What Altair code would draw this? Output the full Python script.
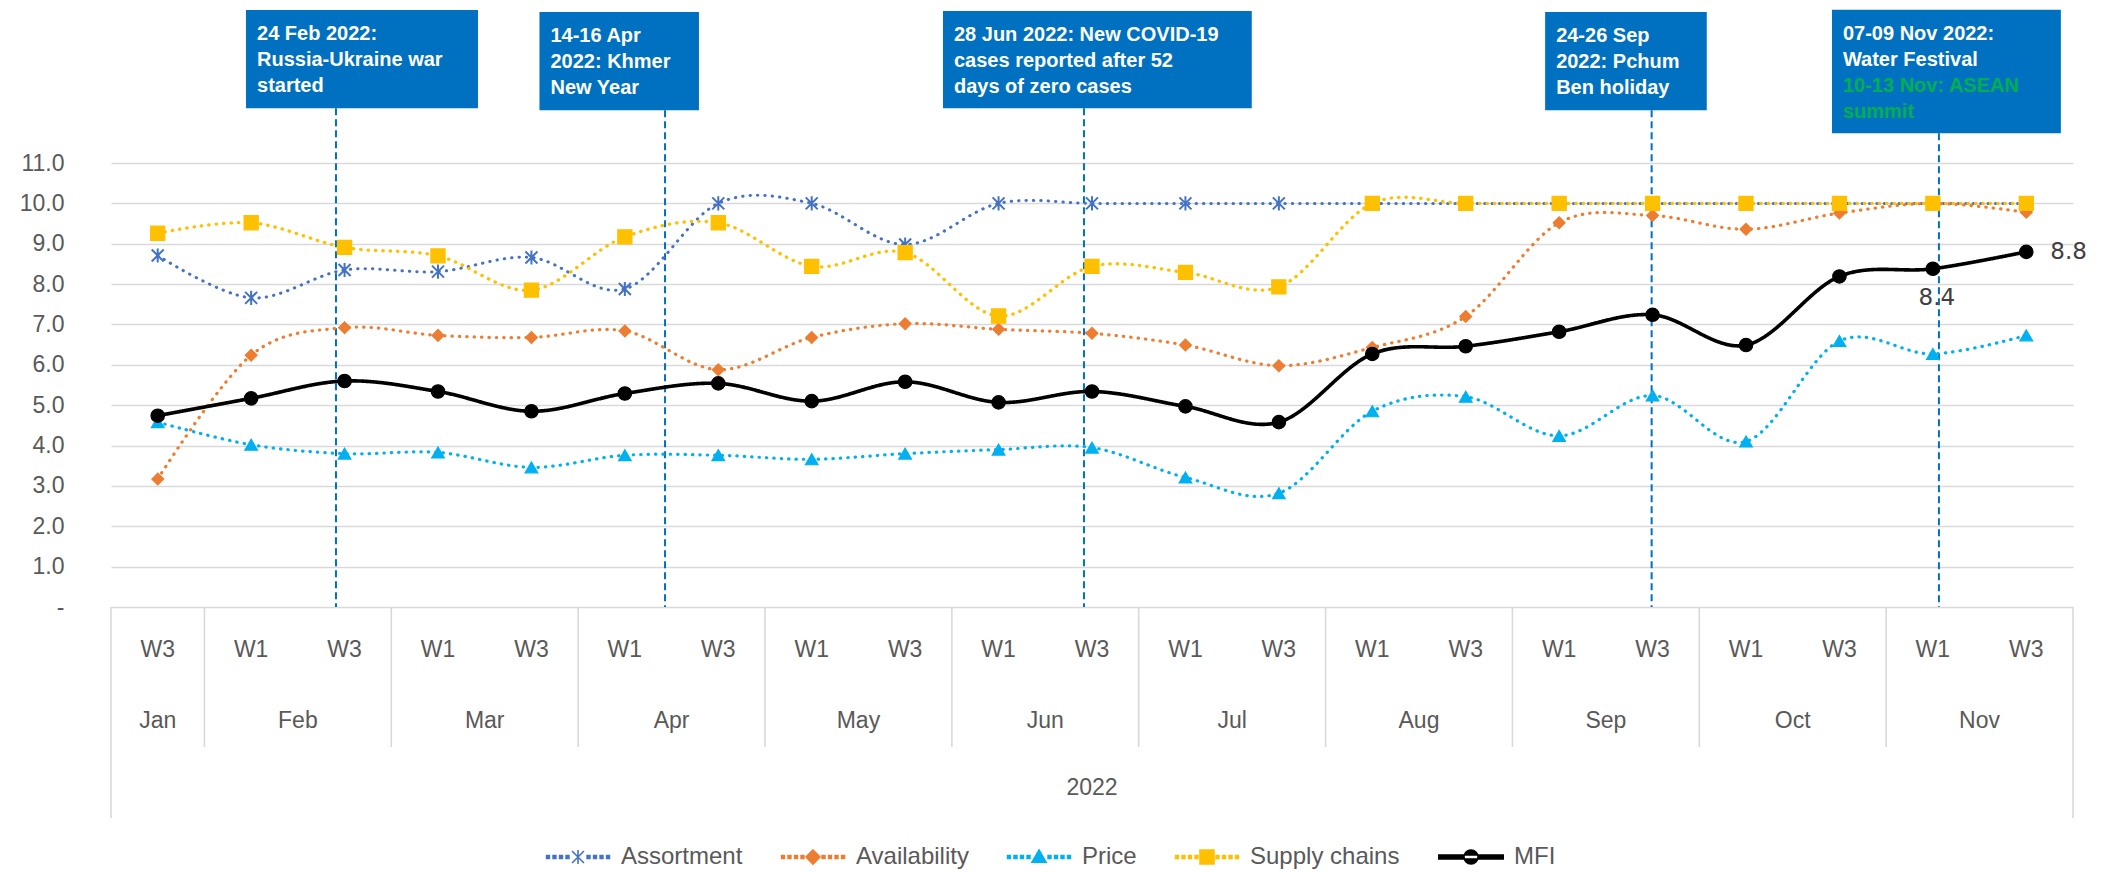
import altair as alt
import pandas as pd

# ---------------- data ----------------
months = ["Jan", "Feb", "Feb", "Mar", "Mar", "Apr", "Apr", "May", "May", "Jun", "Jun",
          "Jul", "Jul", "Aug", "Aug", "Sep", "Sep", "Oct", "Oct", "Nov", "Nov"]
weeks = ["W3", "W1", "W3", "W1", "W3", "W1", "W3", "W1", "W3", "W1", "W3",
         "W1", "W3", "W1", "W3", "W1", "W3", "W1", "W3", "W1", "W3"]
year_label = "2022"

series_names = ["Assortment", "Availability", "Price", "Supply chains", "MFI"]
assortment = [8.71, 7.66, 8.35, 8.31, 8.66, 7.88, 10.0, 10.0, 8.98, 10.0, 10.0,
              10.0, 10.0, 10.0, 10.0, 10.0, 10.0, 10.0, 10.0, 10.0, 10.0]
availability = [3.17, 6.24, 6.92, 6.73, 6.68, 6.84, 5.88, 6.68, 7.02, 6.88, 6.78,
                6.49, 5.98, 6.43, 7.20, 9.52, 9.70, 9.36, 9.76, 10.0, 9.78]
price = [4.58, 4.02, 3.80, 3.83, 3.46, 3.76, 3.76, 3.66, 3.80, 3.90, 3.95,
         3.21, 2.82, 4.85, 5.21, 4.24, 5.24, 4.10, 6.59, 6.27, 6.73]
supply_chains = [9.26, 9.52, 8.91, 8.70, 7.85, 9.17, 9.52, 8.44, 8.78, 7.21, 8.44,
                 8.29, 7.93, 10.0, 10.0, 10.0, 10.0, 10.0, 10.0, 10.0, 10.0]
mfi = [4.74, 5.17, 5.60, 5.34, 4.85, 5.29, 5.54, 5.10, 5.58, 5.07, 5.34,
       4.97, 4.58, 6.27, 6.46, 6.82, 7.24, 6.49, 8.19, 8.38, 8.80]
series_values = [assortment, availability, price, supply_chains, mfi]

# MFI points that carry a data label
mfi_label_below = [19]
mfi_label_right = [20]

# event annotations (x in category-index units, y in value units)
annotations = [
    {"event": 1.908, "left": 0.945, "right": 3.428, "top": 14.79, "bottom": 12.36,
     "white": ["24 Feb 2022:", "Russia-Ukraine war", "started"], "green": []},
    {"event": 5.43, "left": 4.086, "right": 5.793, "top": 14.74, "bottom": 12.31,
     "white": ["14-16 Apr", "2022: Khmer", "New Year"], "green": []},
    {"event": 9.914, "left": 8.405, "right": 11.71, "top": 14.77, "bottom": 12.36,
     "white": ["28 Jun 2022: New COVID-19", "cases reported after 52", "days of zero cases"], "green": []},
    {"event": 15.99, "left": 14.85, "right": 16.58, "top": 14.74, "bottom": 12.31,
     "white": ["24-26 Sep", "2022: Pchum", "Ben holiday"], "green": []},
    {"event": 19.065, "left": 17.92, "right": 20.37, "top": 14.8, "bottom": 11.74,
     "white": ["07-09 Nov 2022:", "Water Festival"], "green": ["10-13 Nov: ASEAN", "summit"]},
]

# ---------------- styles ----------------
colors = ["#4472C4", "#ED7D31", "#00B0F0", "#FFC000", "#000000"]
ASTERISK = "M0,-1L0,1M-0.85,-0.85L0.85,0.85M-0.85,0.85L0.85,-0.85"
DIAMOND = "M0,-1L1,0L0,1L-1,0Z"
TRIANGLE = "M0,-1L1,0.75L-1,0.75Z"
SQUARE = "M-1,-1L1,-1L1,1L-1,1Z"
CIRCLE = "M-1,0A1,1,0,1,0,1,0A1,1,0,1,0,-1,0Z"
plot_shapes = [ASTERISK, "diamond", "triangle-up", "square", "circle"]
sizes = [200, 140, 160, 200, 180]
dashes = [[0.4, 7.0], [0.4, 7.0], [0.4, 7.0], [0.4, 7.0], [1, 0]]
widths = [3.0, 3.2, 3.2, 3.3, 3.6]


def dots_path():
    parts = []
    for c in (1.5, 2.43, 3.36, 4.29):
        for sx in (-c, c):
            parts.append(f"M{sx - 0.2:.2f},-0.2L{sx + 0.2:.2f},-0.2L{sx + 0.2:.2f},0.2L{sx - 0.2:.2f},0.2Z")
    return "".join(parts)


BAR = "M-4.6,-0.28L4.6,-0.28L4.6,0.28L-4.6,0.28Z"
legend_shapes = [dots_path() + ASTERISK, dots_path() + DIAMOND, dots_path() + TRIANGLE,
                 dots_path() + SQUARE, BAR + CIRCLE]

FONT = "Liberation Sans"
GREY = "#595959"
PPU = 40.36                 # pixels per value unit
TOP_PX, BOTTOM_PX = 598, 211
YMAX, YMIN = TOP_PX / PPU, -BOTTOM_PX / PPU
H = TOP_PX + BOTTOM_PX
W = 1962
n = len(weeks)

# ---------------- tables ----------------
rows = []
for s, vals in zip(series_names, series_values):
    for i, v in enumerate(vals):
        rows.append({"idx": i, "week": weeks[i], "month": months[i], "series": s, "value": v})
df = pd.DataFrame(rows)

xscale = alt.Scale(domain=[-0.5, n - 0.5], nice=False, zero=False)
yscale = alt.Scale(domain=[YMIN, YMAX], nice=False, zero=False)
X = alt.X("idx:Q", scale=xscale, axis=None)

mgroups = []
for m in dict.fromkeys(months):
    ids = [i for i, mm in enumerate(months) if mm == m]
    mgroups.append({"month": m, "center": (ids[0] + ids[-1]) / 2, "end": ids[-1] + 0.5})
mdf = pd.DataFrame(mgroups)

week_y = -43 / PPU
month_y = -114 / PPU
year_y = -181 / PPU
sep_y = -140 / PPU

layers = []

axis_layer = alt.Chart(pd.DataFrame({"idx": [0], "value": [0]})).mark_point(opacity=0).encode(
    x=X,
    y=alt.Y("value:Q", scale=yscale, axis=alt.Axis(
        values=list(range(0, 12)),
        labelExpr="datum.value == 0 ? '-' : format(datum.value, '.1f')",
        grid=True, gridColor="#D9D9D9", gridWidth=1.6, domain=False, ticks=False,
        labelPadding=47, labelFontSize=23, labelColor=GREY, labelFont=FONT, title=None)),
)
layers.append(axis_layer)

seps = pd.DataFrame({"x": [g["end"] for g in mgroups[:-1]], "y": 0.0, "y2": sep_y})
outer = pd.DataFrame({"x": [-0.5, n - 0.5], "y": 0.0, "y2": YMIN})
for d in (seps, outer):
    layers.append(alt.Chart(d).mark_rule(color="#D9D9D9", strokeWidth=1.6).encode(
        x=alt.X("x:Q", scale=xscale, axis=None),
        y=alt.Y("y:Q", scale=yscale), y2="y2:Q"))

wk = pd.DataFrame({"idx": list(range(n)), "week": weeks, "y": week_y})
layers.append(alt.Chart(wk).mark_text(font=FONT, fontSize=23, color=GREY, baseline="middle").encode(
    x=X, y=alt.Y("y:Q", scale=yscale), text="week:N"))
mdf["y"] = month_y
layers.append(alt.Chart(mdf).mark_text(font=FONT, fontSize=23, color=GREY, baseline="middle").encode(
    x=alt.X("center:Q", scale=xscale, axis=None), y=alt.Y("y:Q", scale=yscale), text="month:N"))
ydf = pd.DataFrame({"x": [(n - 1) / 2], "y": [year_y], "t": [year_label]})
layers.append(alt.Chart(ydf).mark_text(font=FONT, fontSize=23, color=GREY, baseline="middle").encode(
    x=alt.X("x:Q", scale=xscale, axis=None), y=alt.Y("y:Q", scale=yscale), text="t:N"))

adf = pd.DataFrame([{k: a[k] for k in ("event", "left", "right", "top", "bottom")} for a in annotations])
adf["zero"] = 0.0
layers.append(alt.Chart(adf).mark_rule(color="#0070C0", strokeWidth=2, strokeDash=[7, 4]).encode(
    x=alt.X("event:Q", scale=xscale, axis=None), y=alt.Y("bottom:Q", scale=yscale), y2="zero:Q"))
layers.append(alt.Chart(adf).mark_rect(color="#0070C0").encode(
    x=alt.X("left:Q", scale=xscale, axis=None), x2="right:Q",
    y=alt.Y("bottom:Q", scale=yscale), y2="top:Q"))
trows = []
for a in annotations:
    lines = [(t, "#FFFFFF") for t in a["white"]] + [(t, "#00B050") for t in a["green"]]
    for k, (t, c) in enumerate(lines):
        trows.append({"x": a["left"], "y": a["top"] - (24 + 26 * k) / PPU, "t": t, "c": c})
tdf = pd.DataFrame(trows)
layers.append(alt.Chart(tdf).mark_text(font=FONT, fontSize=20, fontWeight="bold", align="left",
                                        baseline="middle", dx=11).encode(
    x=alt.X("x:Q", scale=xscale, axis=None), y=alt.Y("y:Q", scale=yscale), text="t:N",
    color=alt.Color("c:N", scale=None)))

# series (one line + one marker layer per series, drawn in legend order)
Y = alt.Y("value:Q", scale=yscale)
for k, s in enumerate(series_names):
    base = alt.Chart(df[df.series == s])
    layers.append(base.mark_line(interpolate="cardinal", tension=0, strokeWidth=widths[k],
                                 strokeDash=dashes[k], strokeCap="round", color=colors[k]).encode(
        x=X, y=Y))
    layers.append(base.mark_point(filled=True, size=sizes[k], strokeWidth=2 if k == 0 else 1.2,
                                  opacity=1, shape=plot_shapes[k], fill=colors[k],
                                  stroke=colors[k]).encode(x=X, y=Y))

# legend carrier (draws nothing in the plot; the legend reads the scales)
cscale = alt.Scale(domain=series_names, range=colors)
legend = alt.Legend(orient="none", legendX=455, legendY=836, direction="horizontal", title=None,
                    labelFontSize=24, labelColor=GREY, labelFont=FONT, symbolSize=196,
                    columnPadding=35, labelOffset=31, symbolStrokeWidth=1.6)
lg = pd.DataFrame({"series": series_names, "idx": 0, "value": 0})
layers.append(alt.Chart(lg).transform_filter("false").mark_point(filled=True, opacity=1).encode(
    x=X, y=Y,
    fill=alt.Fill("series:N", scale=cscale, legend=legend),
    stroke=alt.Stroke("series:N", scale=cscale, legend=legend),
    shape=alt.Shape("series:N", scale=alt.Scale(domain=series_names, range=legend_shapes), legend=legend)))

# MFI data labels
lb = pd.DataFrame({"idx": mfi_label_below, "value": [mfi[i] for i in mfi_label_below]})
lb["t"] = [f"{v:.1f}" for v in lb["value"]]
lr = pd.DataFrame({"idx": mfi_label_right, "value": [mfi[i] for i in mfi_label_right]})
lr["t"] = [f"{v:.1f}" for v in lr["value"]]
layers.append(alt.Chart(lb).mark_text(font="DejaVu Sans", fontSize=23, color="#404040", dy=29, dx=4,
                                      baseline="middle").encode(x=X, y=Y, text="t:N"))
layers.append(alt.Chart(lr).mark_text(font="DejaVu Sans", fontSize=23, color="#404040", dx=24, align="left",
                                      baseline="middle").encode(x=X, y=Y, text="t:N"))

chart = alt.layer(*layers).properties(
    width=W, height=H,
    autosize=alt.AutoSizeParams(type="none"),
    padding={"left": 103, "top": 1, "right": 24, "bottom": 52},
    background="white",
).configure_view(stroke=None)

chart.save("out.html", embed_options={"renderer": "svg", "actions": False})
